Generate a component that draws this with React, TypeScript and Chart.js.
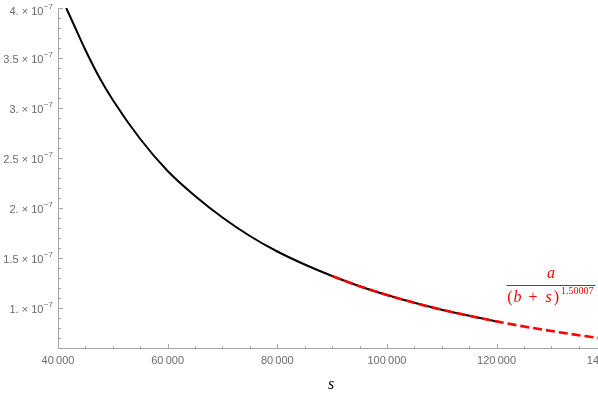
import React, { useEffect, useRef } from "react";
import { Chart, registerables } from "chart.js";

Chart.register(...registerables);

// ---- data (s values, y values in units of 1e-7) ----
const dataS = [41500, 43000, 45000, 47500, 50000, 55000, 60000, 65000, 70000, 75000, 80000, 85000, 90000, 95000, 100000, 105000, 110000, 115000, 120000];
const dataV = [4.0, 3.82, 3.58, 3.31, 3.08, 2.69, 2.37, 2.12, 1.905, 1.72, 1.565, 1.435, 1.32, 1.218, 1.13, 1.052, 0.983, 0.922, 0.866];
const fitS = [90000, 95000, 100000, 105000, 110000, 115000, 120000, 125000, 130000, 135000, 140000];
const fitV = [1.32, 1.218, 1.13, 1.052, 0.983, 0.922, 0.866, 0.815, 0.77, 0.728, 0.69];
const yScaleUnit = 1e-7;
const xMajorTicks = [40000, 60000, 80000, 100000, 120000, 140000];
const yMajorTicks = [1, 1.5, 2, 2.5, 3, 3.5, 4];
const xMinorStep = 5000;
const yMinorStep = 0.1;
const xMin = 40000;
const xMax = 138500;
const yMin = 0.6;
const yMax = 4.0;
const fitExponent = "1.50007";
const xTitle = "s";

const AXIS = "#a6a6a6";
const LABEL = "#6b6b6b";
const RED = "#ff0000";

function fmtX(v: number): string {
  const th = Math.floor(v / 1000);
  return `${th}\u2009000`;
}
function fmtY(v: number): string {
  return Number.isInteger(v) ? `${v}.` : `${v}`;
}

const axesPlugin = {
  id: "mmaAxes",
  beforeDatasetsDraw(chart: any) {
    const { ctx, chartArea: ca, scales } = chart;
    const xs = scales.x;
    const ys = scales.y;
    ctx.save();
    ctx.strokeStyle = AXIS;
    ctx.lineWidth = 1;
    const x0 = Math.round(ca.left) + 0.5;
    const y0 = Math.round(ca.bottom) + 0.5;
    ctx.beginPath();
    ctx.moveTo(x0, ca.top);
    ctx.lineTo(x0, y0);
    ctx.lineTo(ca.right, y0);
    ctx.stroke();

    // x ticks
    ctx.beginPath();
    for (let v = xMin; v <= xMax + 1; v += xMinorStep) {
      const major = xMajorTicks.includes(v);
      const len = major ? 4.5 : 2.5;
      const px = Math.round(xs.getPixelForValue(v)) + 0.5;
      ctx.moveTo(px, y0);
      ctx.lineTo(px, y0 - len);
    }
    // y ticks
    for (let i = 0; ; i++) {
      const v = Math.round((yMin + i * yMinorStep) * 10) / 10;
      if (v > yMax + 1e-9) break;
      const major = yMajorTicks.some((t) => Math.abs(t - v) < 1e-9);
      const len = major ? 4.5 : 2.5;
      const py = Math.round(ys.getPixelForValue(v * yScaleUnit)) + 0.5;
      ctx.moveTo(x0, py);
      ctx.lineTo(x0 + len, py);
    }
    ctx.stroke();

    // x labels
    ctx.fillStyle = LABEL;
    ctx.font = '11px "Liberation Sans", Arial, sans-serif';
    ctx.textAlign = "center";
    ctx.textBaseline = "middle";
    for (const v of xMajorTicks) {
      const px = xs.getPixelForValue(v);
      ctx.fillText(fmtX(v), px, y0 + 12);
    }

    // y labels
    const rightEdge = x0 - 5.5;
    for (const v of yMajorTicks) {
      const py = Math.max(ys.getPixelForValue(v * yScaleUnit), 10);
      ctx.font = '8px "Liberation Sans", Arial, sans-serif';
      ctx.textAlign = "right";
      const sup = "\u22127";
      const supW = ctx.measureText(sup).width;
      ctx.fillText(sup, rightEdge, py - 3.5);
      ctx.font = '11px "Liberation Sans", Arial, sans-serif';
      ctx.fillText(`${fmtY(v)} \u00d7 10`, rightEdge - supW - 0.5, py + 1.5);
    }
    ctx.restore();
  },
  afterDatasetsDraw(chart: any) {
    const { ctx, chartArea: ca } = chart;
    ctx.save();
    // axis title
    ctx.fillStyle = "#000";
    ctx.font = 'italic 16px "Liberation Serif", "Times New Roman", serif';
    ctx.textAlign = "center";
    ctx.textBaseline = "alphabetic";
    ctx.fillText(xTitle, (ca.left + ca.right) / 2 + 3, 389);

    // fraction label
    ctx.fillStyle = RED;
    ctx.strokeStyle = RED;
    ctx.font = 'italic 16px "Liberation Serif", "Times New Roman", serif';
    ctx.textAlign = "center";
    ctx.fillText("a", 551, 278);
    ctx.lineWidth = 1;
    ctx.beginPath();
    ctx.moveTo(506.5, 285.5);
    ctx.lineTo(595.5, 285.5);
    ctx.stroke();
    const base = 302;
    const up = '16px "Liberation Serif", "Times New Roman", serif';
    const it = 'italic 16px "Liberation Serif", "Times New Roman", serif';
    const parts: [string, string, number][] = [
      ["(", up, 510],
      ["b", it, 517.5],
      ["+", up, 533],
      ["s", it, 548.5],
      [")", up, 556.5],
    ];
    for (const [t, f, x] of parts) {
      ctx.font = f;
      ctx.fillText(t, x, base);
    }
    ctx.font = '10px "Liberation Serif", "Times New Roman", serif';
    ctx.textAlign = "left";
    ctx.fillText(fitExponent, 561, 294, 34);
    ctx.restore();
  },
};

export default function App() {
  const ref = useRef<HTMLCanvasElement | null>(null);
  useEffect(() => {
    if (!ref.current) return;
    const chart = new Chart(ref.current, {
      type: "line",
      data: {
        datasets: [
          {
            label: "fit",
            data: fitS.map((s, i) => ({ x: s, y: fitV[i] * yScaleUnit })),
            borderColor: RED,
            borderWidth: 2.6,
            borderDash: [9, 4],
            pointRadius: 0,
            cubicInterpolationMode: "monotone",
            fill: false,
            order: 1,
          },
          {
            label: "data",
            data: dataS.map((s, i) => ({ x: s, y: dataV[i] * yScaleUnit })),
            borderColor: "#000000",
            borderWidth: 2,
            pointRadius: 0,
            cubicInterpolationMode: "monotone",
            fill: false,
            order: 2,
          },
        ],
      },
      options: {
        animation: false,
        responsive: false,
        maintainAspectRatio: false,
        devicePixelRatio: 1,
        layout: { padding: { left: 58, top: 8, right: 0, bottom: 49 } },
        plugins: { legend: { display: false }, tooltip: { enabled: false } },
        scales: {
          x: { type: "linear", display: false, min: xMin, max: xMax },
          y: { type: "linear", display: false, min: yMin * yScaleUnit, max: yMax * yScaleUnit },
        },
      },
      plugins: [axesPlugin],
    });
    return () => chart.destroy();
  }, []);
  return (
    <div style={{ position: "absolute", left: 0, top: 0, width: 598, height: 397, background: "#fff" }}>
      <canvas ref={ref} width={598} height={397} style={{ display: "block" }} />
    </div>
  );
}
